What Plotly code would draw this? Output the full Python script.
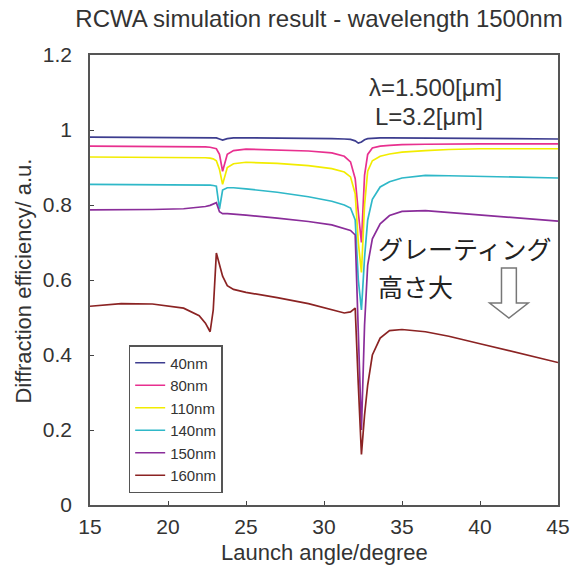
import plotly.graph_objects as go

# ---- data ----
angles = [15, 17, 19, 21, 22, 22.4, 22.7, 22.9, 23.1, 23.3, 23.5, 23.8, 24.2, 25, 27, 29,
          30.5, 31.3, 31.7, 32.0, 32.2, 32.4, 32.6, 32.8, 33.1, 33.6, 34.2, 35, 36.5, 38,
          40, 42, 45]

eff_40 = [0.981, 0.981, 0.981, 0.981, 0.981, 0.981, 0.980, 0.980, 0.979, 0.976, 0.973,
          0.977, 0.979, 0.979, 0.979, 0.978, 0.977, 0.976, 0.975, 0.971, 0.965, 0.968,
          0.974, 0.977, 0.978, 0.979, 0.979, 0.979, 0.978, 0.978, 0.977, 0.977, 0.976]
eff_80 = [0.957, 0.957, 0.957, 0.957, 0.956, 0.955, 0.954, 0.953, 0.950, 0.935, 0.890,
          0.935, 0.945, 0.949, 0.947, 0.944, 0.939, 0.930, 0.915, 0.870, 0.780, 0.700,
          0.880, 0.935, 0.952, 0.957, 0.959, 0.961, 0.962, 0.963, 0.963, 0.963, 0.963]
eff_110 = [0.928, 0.928, 0.928, 0.928, 0.927, 0.926, 0.925, 0.923, 0.918, 0.895, 0.855,
           0.900, 0.910, 0.914, 0.911, 0.905, 0.897, 0.888, 0.875, 0.830, 0.700, 0.620,
           0.800, 0.890, 0.918, 0.930, 0.936, 0.941, 0.945, 0.948, 0.950, 0.950, 0.950]
eff_140 = [0.855, 0.855, 0.855, 0.855, 0.855, 0.854, 0.853, 0.852, 0.850, 0.790, 0.840,
           0.846, 0.846, 0.843, 0.834, 0.822, 0.810, 0.800, 0.792, 0.760, 0.600, 0.520,
           0.660, 0.760, 0.815, 0.848, 0.862, 0.872, 0.879, 0.878, 0.876, 0.874, 0.872]
eff_150 = [0.787, 0.787, 0.788, 0.790, 0.793, 0.796, 0.799, 0.802, 0.806, 0.782, 0.777,
           0.777, 0.776, 0.773, 0.765, 0.756, 0.747, 0.738, 0.732, 0.720, 0.450, 0.200,
           0.480, 0.640, 0.710, 0.750, 0.772, 0.783, 0.785, 0.780, 0.772, 0.765, 0.757]
eff_160 = [0.530, 0.537, 0.536, 0.525, 0.505, 0.485, 0.462, 0.520, 0.672, 0.640, 0.610,
           0.585, 0.575, 0.567, 0.553, 0.537, 0.522, 0.512, 0.515, 0.525, 0.320, 0.135,
           0.240, 0.320, 0.400, 0.445, 0.465, 0.468, 0.462, 0.450, 0.430, 0.410, 0.380]

series_names = ["40nm", "80nm", "110nm", "140nm", "150nm", "160nm"]
series_values = [eff_40, eff_80, eff_110, eff_140, eff_150, eff_160]
series_colors = ["#3d3d8f", "#e8308f", "#f2ec00", "#2fb8c8", "#8a2d9a", "#8b2323"]

x_ticks = [15, 20, 25, 30, 35, 40, 45]
y_ticks = [0, 0.2, 0.4, 0.6, 0.8, 1.0, 1.2]

# ---- layout geometry (pixels) ----
W, H = 582, 567
L, R, T, B = 90, 20, 55, 62
PW, PH = W - L - R, H - T - B


def px(x):
    return (x - L) / PW


def py(y):
    return (H - B - y) / PH


FONT = "Liberation Sans, Arial, sans-serif"

fig = go.Figure()
for i, (name, vals, col) in enumerate(zip(series_names, series_values, series_colors)):
    fig.add_trace(go.Scatter(
        x=angles, y=vals, mode="lines", name=name,
        line=dict(color=col, width=1.7),
        legendgroup=name,
    ))

axis_common = dict(
    showgrid=False, zeroline=False, showline=True, linecolor="#555555", linewidth=1.5,
    mirror=True, ticks="inside", ticklen=4, tickcolor="#444444",
    tickfont=dict(family=FONT, size=21, color="#333333"),
)

fig.update_layout(
    width=W, height=H,
    margin=dict(l=L, r=R, t=T, b=B),
    paper_bgcolor="white", plot_bgcolor="white",
    title=dict(text="RCWA simulation result - wavelength 1500nm",
               font=dict(family=FONT, size=24, color="#333333"),
               x=(66 + 572) / 2 / W, xanchor="center",
               y=1 - 19 / H, yanchor="middle"),
    xaxis=dict(range=[15, 45], tickvals=x_ticks, ticklabelstandoff=2, **axis_common),
    yaxis=dict(range=[0, 1.2], tickvals=y_ticks, ticklabelstandoff=12, **axis_common),
    legend=dict(x=px(129), y=py(345), xanchor="left", yanchor="top",
                bgcolor="white", bordercolor="#555555", borderwidth=1.5,
                font=dict(family=FONT, size=15, color="#333333"),
                tracegroupgap=0, itemwidth=30),
    showlegend=True,
)

annotations = [
    dict(text="Launch angle/degree", x=px(326), y=py(552), xref="paper", yref="paper",
         showarrow=False, font=dict(family=FONT, size=22, color="#333333"),
         xanchor="center", yanchor="middle"),
    dict(text="Diffraction efficiency/ a.u.", x=px(22), y=py(281), xref="paper", yref="paper",
         showarrow=False, textangle=-90, font=dict(family=FONT, size=22, color="#333333"),
         xanchor="center", yanchor="middle"),
    dict(text="λ=1.500[μm]", x=px(438), y=py(87), xref="paper", yref="paper",
         showarrow=False, font=dict(family=FONT, size=24, color="#333333"),
         xanchor="center", yanchor="middle"),
    dict(text="L=3.2[μm]", x=px(432), y=py(116), xref="paper", yref="paper",
         showarrow=False, font=dict(family=FONT, size=24, color="#333333"),
         xanchor="center", yanchor="middle"),
    dict(text="グレーティング", x=px(378), y=py(248), xref="paper", yref="paper",
         showarrow=False, font=dict(family="Noto Sans CJK JP", size=25, color="#222222"),
         xanchor="left", yanchor="middle"),
    dict(text="高さ大", x=px(378), y=py(286), xref="paper", yref="paper",
         showarrow=False, font=dict(family="Noto Sans CJK JP", size=25, color="#222222"),
         xanchor="left", yanchor="middle"),
]
fig.update_layout(annotations=annotations)

# hollow down arrow
pts = [(505, 268), (520, 268), (520, 303), (532, 303), (512.5, 318), (493, 303), (505, 303)]
path = "M" + " L".join(f"{px(a):.5f},{py(b):.5f}" for a, b in pts) + " Z"
fig.add_shape(type="path", path=path, xref="paper", yref="paper",
              line=dict(color="#777777", width=1.5), fillcolor="white")

fig.write_html("out.html", config={"displayModeBar": False},
               post_script="document.body.style.margin='0';document.body.style.overflow='hidden';")
